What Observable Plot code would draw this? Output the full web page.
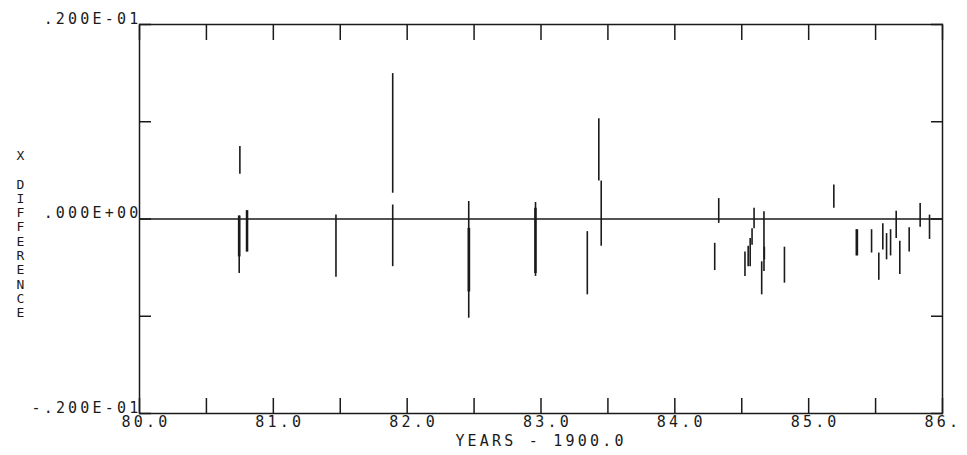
<!DOCTYPE html>
<html><head><meta charset="utf-8">
<script src="https://cdn.jsdelivr.net/npm/d3@7"></script>
<script src="https://cdn.jsdelivr.net/npm/@observablehq/plot@0.6"></script>
<style>
html,body{margin:0;padding:0;background:#fff;}
#chart svg text{letter-spacing:3.2px;}
</style></head><body><div id="chart"></div>
<script>
// Observation epochs (years - 1900) and the low / high ends of each difference bar
const years = [80.750, 80.745, 80.741, 80.749, 80.800, 80.807, 81.468, 81.892, 81.892, 82.460, 82.457, 82.465,
  82.959, 82.955, 82.962, 83.346, 83.432, 83.450, 84.298, 84.328, 84.524, 84.548, 84.563, 84.577, 84.592,
  84.649, 84.666, 84.669, 84.819, 85.188, 85.356, 85.364, 85.470, 85.524, 85.554, 85.582, 85.612, 85.654,
  85.681, 85.751, 85.833, 85.903];
const lows = [0.00460, -0.00560, -0.00390, -0.00390, -0.00340, -0.00340, -0.00600, 0.00265, -0.00490, -0.01020, -0.00750, -0.00750,
  -0.00590, -0.00560, -0.00560, -0.00780, 0.00390, -0.00280, -0.00530, -0.00045, -0.00590, -0.00490, -0.00490, -0.00270, -0.00100,
  -0.00780, -0.00540, -0.00420, -0.00660, 0.00110, -0.00380, -0.00380, -0.00350, -0.00630, -0.00320, -0.00420, -0.00380, -0.00200,
  -0.00570, -0.00340, -0.00086, -0.00210];
const highs = [0.00745, 0.00030, 0.00030, 0.00030, 0.00086, 0.00086, 0.00040, 0.01495, 0.00144, 0.00180, -0.00096, -0.00096,
  0.00170, 0.00110, 0.00110, -0.00130, 0.01030, 0.00390, -0.00250, 0.00210, -0.00340, -0.00280, -0.00200, -0.00100, 0.00110,
  -0.00440, 0.00075, -0.00290, -0.00290, 0.00350, -0.00110, -0.00110, -0.00110, -0.00350, -0.00050, -0.00150, -0.00110, 0.00080,
  -0.00230, -0.00090, 0.00160, 0.00040];

const xTicks = [80, 80.5, 81, 81.5, 82, 82.5, 83, 83.5, 84, 84.5, 85, 85.5, 86];
const xLabelTicks = [80, 81, 82, 83, 84, 85, 86];
const xLabels = ["80.0", "81.0", "82.0", "83.0", "84.0", "85.0", "86."];
const yTicks = [-0.02, -0.01, 0, 0.01, 0.02];
const yLabelTicks = [-0.02, 0, 0.02];
const yLabels = ["-.200E-01", ".000E+00", ".200E-01"];
const xTitle = "YEARS - 1900.0";
const yTitle = ["X", "", "D", "I", "F", "F", "E", "R", "E", "N", "C", "E"];

const bars = years.map((t, i) => ({t, lo: lows[i], hi: highs[i]}));
const ink = "#1a1a1a";
const blank = () => "";

const chart = Plot.plot({
  width: 967,
  height: 455,
  marginLeft: 139,
  marginRight: 25,
  marginTop: 24,
  marginBottom: 42,
  style: {fontFamily: "'DejaVu Sans Mono', monospace", fontSize: "15px", color: ink, background: "#fff"},
  x: {domain: [80, 86]},
  y: {domain: [-0.02, 0.02]},
  marks: [
    Plot.frame({stroke: ink, strokeWidth: 1.5}),
    Plot.ruleY([0], {stroke: ink, strokeWidth: 1.5}),
    Plot.axisX(xTicks, {anchor: "top", tickSize: -15, tickFormat: blank, label: null, stroke: ink, strokeWidth: 1.5}),
    Plot.axisX(xTicks, {anchor: "bottom", tickSize: -15, tickFormat: blank, label: null, stroke: ink, strokeWidth: 1.5}),
    Plot.axisY(yTicks, {anchor: "left", tickSize: -12, tickFormat: blank, label: null, stroke: ink, strokeWidth: 1.5}),
    Plot.axisY(yTicks, {anchor: "right", tickSize: -12, tickFormat: blank, label: null, stroke: ink, strokeWidth: 1.5}),
    Plot.axisX(xLabelTicks, {anchor: "bottom", tickSize: 0, tickPadding: 3, tickFormat: (d, i) => xLabels[i], textAnchor: "start", dx: -18, lineAnchor: "top", label: null, fill: ink}),
    Plot.axisY(yLabelTicks, {anchor: "left", tickSize: 0, tickPadding: -2, tickFormat: (d, i) => yLabels[i], textAnchor: "end", lineAnchor: "bottom", dy: -1, label: null, fill: ink}),
    Plot.text([xTitle], {frameAnchor: "bottom", dy: 28, lineAnchor: "middle", fill: ink}),
    Plot.text([yTitle.join("\n")], {frameAnchor: "left", dx: -123, fontSize: 13, lineHeight: 1.1, lineAnchor: "middle", dy: 15, fill: ink}),
    Plot.ruleX(bars, {x: "t", y1: "lo", y2: "hi", stroke: ink, strokeWidth: 1.6})
  ]
});
document.getElementById("chart").appendChild(chart);
</script></body></html>
